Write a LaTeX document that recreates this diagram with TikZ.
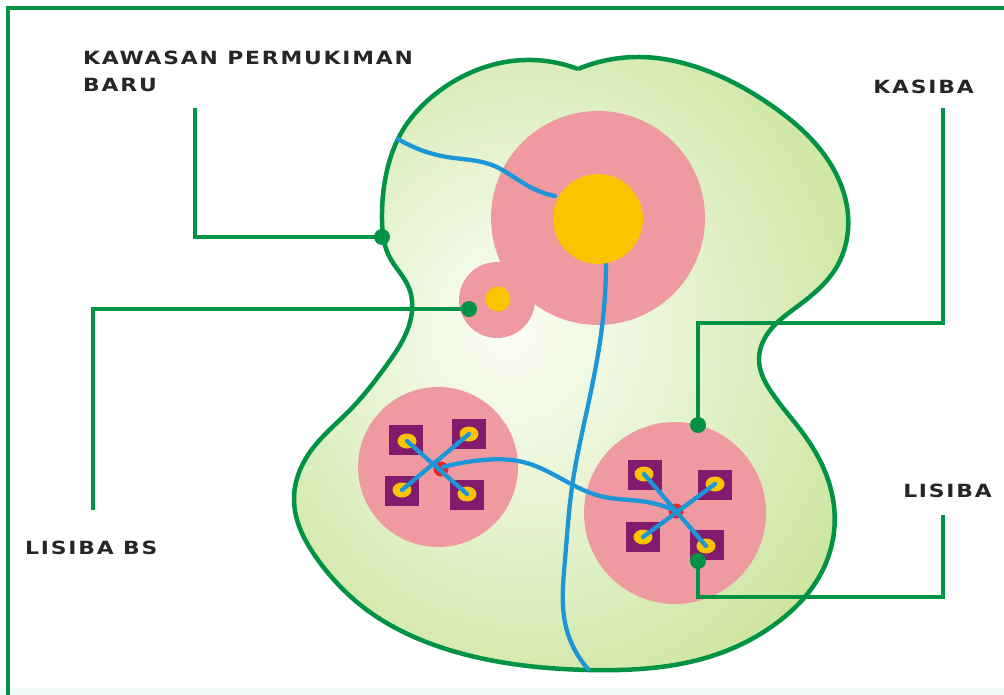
\documentclass[tikz,border=0pt]{standalone}
\usepackage{fontspec}
\setmainfont{DejaVu Sans}
\newfontfamily\lblfont[FakeStretch=1.2,LetterSpace=10]{DejaVu Sans}
\usetikzlibrary{shapes.geometric,hobby}
\definecolor{frameg}{RGB}{0,146,69}
\definecolor{pinkc}{RGB}{239,154,160}
\definecolor{yell}{RGB}{250,196,0}
\definecolor{purp}{RGB}{130,26,110}
\definecolor{bluec}{RGB}{28,150,215}
\definecolor{redc}{RGB}{225,40,40}
\definecolor{band}{RGB}{240,251,250}
\definecolor{gin}{RGB}{252,254,246}
\definecolor{gmid}{RGB}{230,243,208}
\definecolor{gout}{RGB}{200,226,150}
\pgfdeclareradialshading{blobshade}{\pgfpoint{-6bp}{3bp}}{color(0bp)=(gin); color(15bp)=(gmid); color(35bp)=(gout); color(60bp)=(gout)}
\tikzset{
  conn/.style={frameg, line width=4pt},
  dot/.style={circle, fill=frameg, inner sep=0pt, minimum size=16pt},
  lbl/.style={font=\lblfont\bfseries\fontsize{18.2}{27}\selectfont, text=black!85, inner sep=0pt, align=left},
  road/.style={bluec, line width=4.3pt, line cap=round},
  plot/.style={purp, minimum width=34pt, minimum height=30pt, fill=purp, inner sep=0pt},
  house/.style={ellipse, fill=yell, minimum width=19pt, minimum height=15pt, inner sep=0pt},
  hub/.style={circle, fill=redc, minimum size=15pt, inner sep=0pt}
}
\begin{document}
\begin{tikzpicture}[x=1pt,y=-1pt]
\useasboundingbox (0,0) rectangle (1004,695);
\fill[white] (0,0) rectangle (1004,695);
\fill[band] (0,688) rectangle (1004,695);
\draw[frameg, line width=3.8pt] (8,695) -- (8,8) -- (1004,8);

% blob
\shadedraw[shading=blobshade, draw=frameg, line width=4.5pt, use Hobby shortcut]
  (578,69) .. (640,57) .. (705,70) .. (775,108) .. (828,160) .. (848,215) .. (836,268) .. (798,306) .. (768,333) .. (759,360) .. (772,393) .. (805,436) .. (830,486) .. (834,532) .. (816,582) .. (778,622) .. (715,655) .. (640,669) .. (588,670) .. (520,665) .. (440,647) .. (363,607) .. (318,560) .. (294,500) .. (310,452) .. (350,410) .. (386,366) .. (410,322) .. (409,288) .. (389,256) .. (382,220) .. (386,175) .. (400,135) .. (442,89) .. (512,61) .. (578,69);

% pink areas
\fill[pinkc] (598,218) circle (107);
\fill[pinkc] (497,300) circle (38);
\fill[pinkc] (438,467) circle (80);
\fill[pinkc] (675,513) circle (91);

% roads
\draw[road, use Hobby shortcut] (398,139) .. (447,157) .. (492,165) .. (530,187) .. (555,196);
\draw[road, use Hobby shortcut] (606,258) .. (602,327) .. (587,410) .. (572,487) .. (565,560) .. (566,627) .. (588,669);

% centres
\node[circle, fill=yell, minimum size=90pt, inner sep=0pt] (core) at (598,219) {};
\node[circle, fill=yell, minimum size=25pt, inner sep=0pt] (core2) at (498,299) {};

% left cluster
\node[plot] (l1) at (406,440) {};
\node[plot] (l2) at (469,434) {};
\node[plot] (l3) at (402,491) {};
\node[plot] (l4) at (467,495) {};
\node[hub] (lh) at (441,469) {};
\node[house] (lh1) at (407,441) {};
\node[house] (lh2) at (469,434) {};
\node[house] (lh3) at (402,490) {};
\node[house] (lh4) at (467,494) {};
\draw[road] (lh1.center) -- (lh4.center);
\draw[road] (lh2.center) -- (lh3.center);

% right cluster
\node[plot] (r1) at (645,475) {};
\node[plot] (r2) at (715,485) {};
\node[plot] (r3) at (643,537) {};
\node[plot] (r4) at (707,545) {};
\node[hub] (rh) at (676,511) {};
\node[house] (rh1) at (644,474) {};
\node[house] (rh2) at (715,484) {};
\node[house] (rh3) at (643,537) {};
\node[house] (rh4) at (706,546) {};
\draw[road] (rh1.center) -- (rh4.center);
\draw[road] (rh2.center) -- (rh3.center);

% connecting road
\draw[road, use Hobby shortcut] (443,467) .. (483,460) .. (523,462) .. (560,478) .. (600,496) .. (647,502) .. (676,511);

% labels
\node[lbl, anchor=north west] (tkp) at (83,51) {KAWASAN PERMUKIMAN\\BARU};
\node[lbl, anchor=north east] (tkas) at (974,80) {KASIBA};
\node[lbl, anchor=north east] (tlis) at (992,484) {LISIBA};
\node[lbl, anchor=north west] (tbs) at (25,541) {LISIBA BS};

% connectors
\coordinate (kp0) at (195,108);
\coordinate (kas0) at (943,108);
\coordinate (lis0) at (943,515);
\coordinate (bs0) at (93,510);
\node[dot] (dkp) at (382,237) {};
\node[dot] (dbs) at (469,309) {};
\node[dot] (dkas) at (698,425) {};
\node[dot] (dlis) at (698,561) {};
\draw[conn] (kp0) |- (dkp.center);
\draw[conn] (bs0) |- (dbs.center);
\draw[conn] (kas0) -- (943,323) -| (dkas.center);
\draw[conn] (lis0) -- (943,597) -| (dlis.center);
\end{tikzpicture}
\end{document}
